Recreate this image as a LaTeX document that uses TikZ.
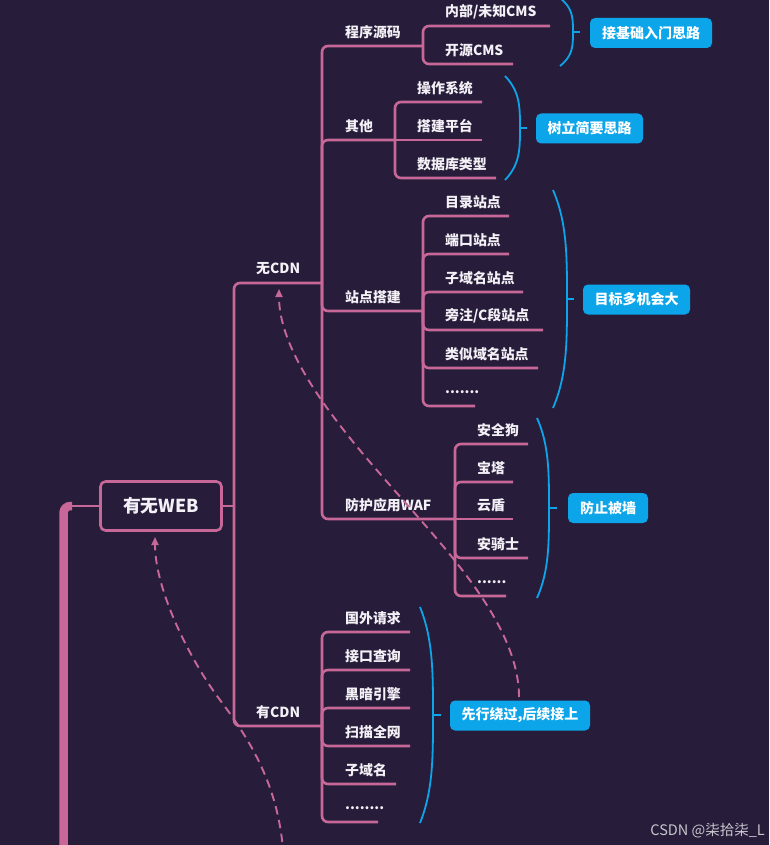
\documentclass[tikz,border=0pt]{standalone}
\usepackage{fontspec}
\setmainfont{Noto Sans CJK SC}
\usetikzlibrary{arrows.meta}
\definecolor{bgc}{RGB}{39,29,59}
\definecolor{pinkc}{RGB}{199,104,152}
\definecolor{bluec}{RGB}{12,165,234}
\definecolor{txtc}{RGB}{243,240,246}
\definecolor{wmc}{RGB}{200,198,205}
\newcommand{\sumbr}[5]{%
  \pgfmathsetmacro{\brH}{#4-#3}%
  \pgfmathsetmacro{\brM}{(#3+#4)/2}%
  \pgfmathsetmacro{\brA}{#3+0.15*\brH}%
  \pgfmathsetmacro{\brB}{#3+0.3*\brH}%
  \pgfmathsetmacro{\brC}{#4-0.3*\brH}%
  \pgfmathsetmacro{\brD}{#4-0.15*\brH}%
  \draw[sumbrace] (#1,#3) .. controls (#2,\brA) and (#2,\brB) .. (#2,\brM) .. controls (#2,\brC) and (#2,\brD) .. (#1,#4);
  \draw[sumbrace] (#2,\brM) -- (#5,\brM);
}
\tikzset{
  lbl/.style={anchor=west, inner sep=0pt, text=txtc, font=\fontsize{13.9}{16}\selectfont\bfseries},
  branch/.style={draw=pinkc, line width=2.6pt, rounded corners=6pt},
  rootbox/.style={draw=pinkc, line width=2.6pt, rounded corners=5pt, fill=bgc, text=txtc,
    minimum width=121pt, minimum height=49pt, inner sep=0pt, font=\fontsize{17.8}{20}\selectfont\bfseries},
  sumbox/.style={fill=bluec, rounded corners=5pt, text=white, inner sep=0pt, minimum height=30pt,
    font=\fontsize{14}{16}\selectfont\bfseries},
  sumbrace/.style={draw=bluec, line width=1.8pt},
  dashlink/.style={draw=pinkc, line width=1.9pt, dash pattern=on 8.5pt off 5.5pt, -{Triangle[width=7pt,length=8pt]}}
}
\begin{document}
\begin{tikzpicture}[x=1pt,y=-1pt]
\useasboundingbox (0,0) rectangle (769,845);
\clip (0,0) rectangle (769,845);
\fill[bgc] (0,0) rectangle (769,845);

% root
\node[rootbox] (web) at (161,506) {有无WEB};
\coordinate (offroot) at (63.5,870);
\coordinate (rootbend) at (72,506);
\draw[pinkc, line width=8.5pt, rounded corners=7pt] (offroot) |- (rootbend);
\draw[branch] (rootbend) -- (web.west);
\coordinate (trunk) at (234,506);
\draw[branch] (web.east) -- (trunk);

% second level
\coordinate (wcdnj) at (322,283);
\node[lbl] (wcdn) at (256,269) {无CDN};
\draw[branch] (trunk) |- (wcdnj);
\coordinate (ycdnj) at (322,726);
\node[lbl] (ycdn) at (256,712) {有CDN};
\draw[branch] (trunk) |- (ycdnj);

% third level under 无CDN
\node[lbl] (src) at (345,32) {程序源码};
\coordinate (srcj) at (423,46);
\draw[branch] (wcdnj) |- (srcj);
\node[lbl] (oth) at (345,126) {其他};
\coordinate (othj) at (395,140);
\draw[branch] (wcdnj) |- (othj);
\node[lbl] (site) at (345,297) {站点搭建};
\coordinate (sitej) at (423,311);
\draw[branch] (wcdnj) |- (sitej);
\node[lbl] (waf) at (345,505) {防护应用WAF};
\coordinate (wafj) at (455,519);
\draw[branch] (wcdnj) |- (wafj);

% 程序源码 children
\node[lbl] (s1) at (445,12) {内部/未知CMS};
\coordinate (s1e) at (550,26);
\draw[branch] (srcj) |- (s1e);
\node[lbl] (s2) at (445,50) {开源CMS};
\coordinate (s2e) at (513,64);
\draw[branch] (srcj) |- (s2e);

% 其他 children
\node[lbl] (o1) at (417,88) {操作系统};
\coordinate (o1e) at (482,102);
\draw[branch] (othj) |- (o1e);
\node[lbl] (o2) at (417,126) {搭建平台};
\coordinate (o2e) at (482,140);
\draw[branch] (othj) -- (o2e);
\node[lbl] (o3) at (417,164) {数据库类型};
\coordinate (o3e) at (496,178);
\draw[branch] (othj) |- (o3e);

% 站点搭建 children
\node[lbl] (t1) at (445,202) {目录站点};
\coordinate (t1e) at (509,216);
\draw[branch] (sitej) |- (t1e);
\node[lbl] (t2) at (445,240) {端口站点};
\coordinate (t2e) at (509,254);
\draw[branch] (sitej) |- (t2e);
\node[lbl] (t3) at (445,278) {子域名站点};
\coordinate (t3e) at (523,292);
\draw[branch] (sitej) |- (t3e);
\node[lbl] (t4) at (445,316) {旁注/C段站点};
\coordinate (t4e) at (543,330);
\draw[branch] (sitej) |- (t4e);
\node[lbl] (t5) at (445,354) {类似域名站点};
\coordinate (t5e) at (538,368);
\draw[branch] (sitej) |- (t5e);
\node[lbl] (t6) at (445,392) {.......};
\coordinate (t6e) at (475,406);
\draw[branch] (sitej) |- (t6e);

% WAF children
\node[lbl] (w1) at (477,430) {安全狗};
\coordinate (w1e) at (528,444);
\draw[branch] (wafj) |- (w1e);
\node[lbl] (w2) at (477,468) {宝塔};
\coordinate (w2e) at (513,482);
\draw[branch] (wafj) |- (w2e);
\node[lbl] (w3) at (477,505) {云盾};
\coordinate (w3e) at (513,519);
\draw[branch] (wafj) -- (w3e);
\node[lbl] (w4) at (477,544) {安骑士};
\coordinate (w4e) at (528,558);
\draw[branch] (wafj) |- (w4e);
\node[lbl] (w5) at (477,582) {......};
\coordinate (w5e) at (506,596);
\draw[branch] (wafj) |- (w5e);

% 有CDN children
\node[lbl] (c1) at (345,618) {国外请求};
\coordinate (c1e) at (410,632);
\draw[branch] (ycdnj) |- (c1e);
\node[lbl] (c2) at (345,656) {接口查询};
\coordinate (c2e) at (410,670);
\draw[branch] (ycdnj) |- (c2e);
\node[lbl] (c3) at (345,694) {黑暗引擎};
\coordinate (c3e) at (410,708);
\draw[branch] (ycdnj) |- (c3e);
\node[lbl] (c4) at (345,732) {扫描全网};
\coordinate (c4e) at (410,746);
\draw[branch] (ycdnj) |- (c4e);
\node[lbl] (c5) at (345,770) {子域名};
\coordinate (c5e) at (396,784);
\draw[branch] (ycdnj) |- (c5e);
\node[lbl] (c6) at (345,808) {........};
\coordinate (c6e) at (378,822);
\draw[branch] (ycdnj) |- (c6e);

% summary braces
\sumbr{560}{573}{-2}{66}{580}
\sumbr{505}{520}{76}{180}{527}
\sumbr{553}{567}{190}{408}{574}
\sumbr{537}{549}{418}{598}{557}
\sumbr{420}{433}{607}{823}{441}

% summary boxes
\node[sumbox, minimum width=122pt] (b1) at (651,33) {接基础入门思路};
\node[sumbox, minimum width=107pt] (b2) at (589.5,128.5) {树立简要思路};
\node[sumbox, minimum width=107pt] (b3) at (636.5,299.5) {目标多机会大};
\node[sumbox, minimum width=80pt] (b4) at (608,508) {防止被墙};
\node[sumbox, minimum width=140pt] (b5) at (520,715.5) {先行绕过,后续接上};

% dashed relations
\coordinate (dsA) at (519,697);
\coordinate (dsAend) at (279,289);
\draw[dashlink] (dsA) .. controls (519,630) and (456,560) .. (403,500) .. controls (350,440) and (279,360) .. (dsAend);
\coordinate (dsB) at (284,870);
\coordinate (dsBend) at (155,537);
\draw[dashlink] (dsB) .. controls (283,790) and (250,740) .. (220,700) .. controls (190,660) and (155,590) .. (dsBend);

% watermark
\node[anchor=east, inner sep=0pt, text=wmc, font=\fontsize{14.5}{16}\selectfont] (wm) at (765,831) {CSDN @柒拾柒\_L};
\end{tikzpicture}
\end{document}
